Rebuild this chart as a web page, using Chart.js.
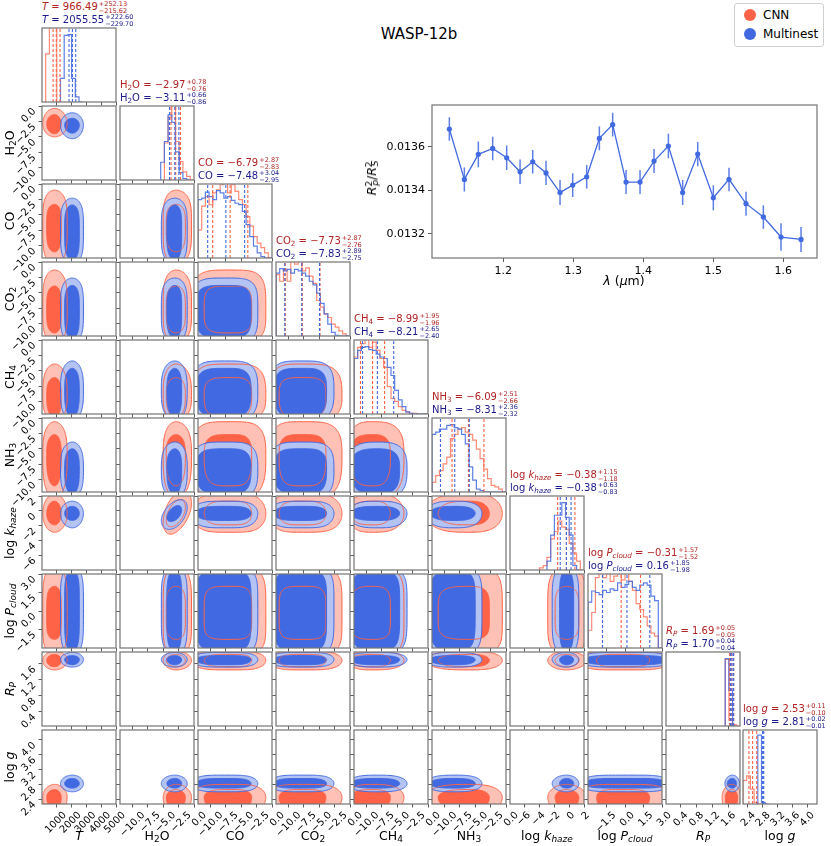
<!DOCTYPE html>
<html><head><meta charset="utf-8">
<script src="https://cdn.jsdelivr.net/npm/chart.js@4.4.1/dist/chart.umd.min.js"></script>
<style>
html,body{margin:0;padding:0;background:#fff}
body{width:831px;height:846px;position:relative;overflow:hidden;font-family:"DejaVu Sans",sans-serif}
canvas{position:absolute}
.lbl{position:absolute;white-space:nowrap;font-size:12.5px;color:#000;z-index:5;line-height:14px}
.ttl{position:absolute;white-space:nowrap;font-size:10px;z-index:5;line-height:12px}
.ss{display:inline-block;vertical-align:-3px;font-size:6.5px;line-height:6.8px;margin-left:1px}
.ss span{display:block}
sub{font-size:0.72em;vertical-align:-0.25em;line-height:0}
sup{font-size:0.72em;vertical-align:0.45em;line-height:0}
.legend{position:absolute;left:734px;top:3px;width:88px;height:42px;border:1px solid #d0d0d0;border-radius:3px;background:#fff;z-index:6;font-size:12px}
.legend div{position:absolute;left:28px;white-space:nowrap}
.dot{position:absolute;left:9px;width:12px;height:12px;border-radius:50%}
.main{position:absolute;left:419px;top:34px;transform:translate(-50%,-50%);font-size:15px;z-index:5;white-space:nowrap}
</style></head><body>
<div class="main">WASP-12b</div>
<div class="legend">
  <span class="dot" style="top:5px;background:rgb(255,99,71)"></span><div style="top:4px">CNN</div>
  <span class="dot" style="top:24px;background:rgb(65,105,225)"></span><div style="top:23px">Multinest</div>
</div>
<script>
// ---------------- DATA ----------------
const paramLabels = ['<i>T</i>','H<sub>2</sub>O','CO','CO<sub>2</sub>','CH<sub>4</sub>','NH<sub>3</sub>','log <i>k<sub>haze</sub></i>','log <i>P<sub>cloud</sub></i>','<i>R<sub>P</sub></i>','log <i>g</i>'];
const axisMin = [0,-12,-12,-12,-12,-12,-8,-3,0.04,2.27];
const axisMax = [5000,0,0,0,0,0,2,3,1.9,4.27];
const tickValues = [
  [1000,2000,3000,4000,5000],[-10,-7.5,-5,-2.5,0],[-10,-7.5,-5,-2.5,0],[-10,-7.5,-5,-2.5,0],
  [-10,-7.5,-5,-2.5,0],[-10,-7.5,-5,-2.5,0],[-6,-4,-2,0,2],[-1.5,0,1.5,3],[0.4,0.8,1.2,1.6],[2.4,2.8,3.2,3.6,4.0]];
const gasTicks = ['−10.0','−7.5','−5.0','−2.5','0.0'];
const tickLabels = [
  ['1000','2000','3000','4000','5000'],gasTicks,gasTicks,gasTicks,gasTicks,gasTicks,
  ['−6','−4','−2','0','2'],['−1.5','0.0','1.5','3.0'],['0.4','0.8','1.2','1.6'],['2.4','2.8','3.2','3.6','4.0']];

// posterior summaries (titles / dashed quantile lines)
const cnnMedian = [966.49,-2.97,-6.79,-7.73,-8.99,-6.09,-0.38,-0.31,1.69,2.53];
const cnnPlus   = [252.13,0.78,2.87,2.87,1.95,2.51,1.15,1.57,0.05,0.11];
const cnnMinus  = [215.62,0.76,2.83,2.76,1.96,2.66,1.18,1.52,0.05,0.10];
const mnMedian  = [2055.55,-3.11,-7.48,-7.83,-8.21,-8.31,-0.38,0.16,1.70,2.81];
const mnPlus    = [222.60,0.66,3.04,2.89,2.65,2.36,0.63,1.85,0.04,0.02];
const mnMinus   = [229.70,0.86,2.95,2.75,2.40,2.32,0.83,1.98,0.04,0.01];

// 1D histograms (heights relative to panel height)
const histWidth = [250,0.6,0.6,0.6,0.6,0.6,0.5,0.3,0.093,0.1];
const cnnHistStart = [250,-4.8,-12,-12,-12,-12,-4,-3,1.528,2.27];
const mnHistStart  = [1250,-5.4,-12,-12,-12,-12,-3,-3,1.528,2.67];
const cnnHist = [
  [0.32,0.65,1.2,1.2],
  [0.1,0.5,0.85,1.1,0.52,0.25,0.11,0.05],
  [0.27,0.38,0.70,0.83,0.72,0.88,0.92,0.99,1.05,0.88,0.99,0.90,0.79,0.72,0.56,0.43,0.29,0.20,0.14,0.07],
  [0.30,0.83,0.74,0.90,0.74,1.05,0.97,1.05,0.88,0.92,0.81,0.71,0.48,0.39,0.30,0.25,0.16,0.12,0.07,0.03],
  [0.57,0.77,0.90,0.95,1.05,0.90,0.97,0.86,0.75,0.63,0.37,0.21,0.17,0.10,0.05,0.03,0.01,0.01,0,0],
  [0.07,0.13,0.22,0.29,0.38,0.47,0.72,0.78,0.85,0.87,0.81,0.78,0.70,0.58,0.45,0.31,0.18,0.09,0.07,0.04],
  [0.02,0.03,0.06,0.17,0.42,0.52,0.66,0.58,0.55,0.36,0.23,0.12],
  [0.2,0.24,0.48,0.95,1.05,0.95,1.05,0.9,0.97,1.05,0.92,1.05,0.9,0.78,0.6,0.52,0.42,0.3,0.2,0.16],
  [0.15,0.9,0.08,0.02],
  [0.12,0.32,0.38,0.2,0.02]];
const mnHist = [
  [0.03,0.32,0.90,0.91,0.32,0.07],
  [0.05,0.24,0.52,0.88,0.78,0.38,0.1,0.02],
  [0.74,0.79,0.81,0.89,0.83,0.79,0.91,0.88,0.81,0.83,0.78,0.74,0.72,0.63,0.45,0.29,0.16,0.07,0.02,0],
  [0.81,0.85,0.91,0.88,0.90,0.85,0.90,0.88,0.85,0.81,0.74,0.69,0.58,0.44,0.30,0.16,0.05,0.01,0,0],
  [0.59,0.75,0.86,0.90,0.91,0.87,0.86,0.81,0.77,0.75,0.63,0.52,0.32,0.19,0.10,0.03,0.01,0,0,0],
  [0.61,0.78,0.81,0.85,0.85,0.90,0.91,0.87,0.85,0.78,0.65,0.34,0.16,0.04,0.02,0,0,0,0,0],
  [0.06,0.12,0.47,0.74,0.74,0.91,0.71,0.47,0.06],
  [0.48,0.62,0.77,0.75,0.72,0.78,0.75,0.80,0.78,0.88,0.82,0.86,0.90,0.82,0.78,0.85,0.88,0.85,0.70,0.64],
  [0,0.91,0.48],
  [0.1,0.93,0.02]];

// 2D credible regions per parameter: [outer low, inner low, centre, inner high, outer high]
const cnnRegion = [
  [50,320,850,1300,1700],[-5.0,-4.5,-2.9,-1.4,-0.4],[-13,-11,-6.8,-3.3,-1.0],[-13,-11.5,-7.7,-3.9,-1.3],
  [-13,-12.5,-9.0,-6.1,-3.9],[-13,-11,-6.1,-2.7,-0.6],[-2.9,-1.9,-0.4,1.3,2.3],[-3.6,-2.3,-0.3,2.0,3.6],
  [1.45,1.53,1.69,1.84,1.92],[2.0,2.1,2.45,2.66,2.8]];
const mnRegion = [
  [1250,1530,2050,2520,2800],[-5.3,-4.4,-3.1,-2.0,-1.1],[-13,-12.3,-7.5,-3.4,-2.3],[-13,-12.3,-7.8,-3.8,-2.6],
  [-13,-12.5,-8.2,-4.6,-3.4],[-13,-12.3,-8.3,-5.0,-3.9],[-2.3,-1.3,-0.35,0.6,1.3],[-3.6,-3.3,0.2,3.3,3.6],
  [1.52,1.58,1.71,1.81,1.89],[2.6,2.7,2.82,2.96,3.05]];
const regionShape = [2,2,4,4,3,3,2,5,2,2];
const correlatedPairs = [[6,1,0.5]]; // [row, col, shear]

// transmission spectrum (inset)
const wavelength = [1.1229,1.1443,1.1643,1.1848,1.2048,1.2239,1.2420,1.2610,1.2810,1.2991,1.3191,1.3372,1.3562,1.3753,1.3953,1.4153,1.4358,1.4562,1.4777,1.5000,1.5224,1.5467,1.5715,1.5967,1.6253];
const depth = [0.013681,0.013450,0.013565,0.013592,0.013549,0.013485,0.013531,0.013480,0.013390,0.013424,0.013462,0.013638,0.013701,0.013438,0.013438,0.013534,0.013603,0.013390,0.013566,0.013366,0.013450,0.013339,0.013278,0.013186,0.013175];
const depthErr = [5.4e-5,5.5e-5,5.9e-5,5.4e-5,5.6e-5,5.6e-5,5.4e-5,5.5e-5,5.7e-5,5.4e-5,5.4e-5,5.4e-5,5.4e-5,5.5e-5,5.5e-5,5.5e-5,5.6e-5,5.7e-5,5.6e-5,5.7e-5,5.4e-5,5.5e-5,5.4e-5,6.3e-5,5.7e-5];
const specXTicks = [1.2,1.3,1.4,1.5,1.6];
const specXLabels = ['1.2','1.3','1.4','1.5','1.6'];
const specYTicks = [0.0132,0.0134,0.0136];
const specYLabels = ['0.0132','0.0134','0.0136'];
const specXRange = [1.0981,1.6481];
const specYRange = [0.013090,0.013791];

// ---------------- STYLE / LAYOUT ----------------
const CNN_DARK='rgb(255,99,71)', CNN_LIGHT='rgb(255,193,181)';
const MN_DARK='rgb(65,105,225)', MN_LIGHT='rgb(179,195,243)';
const CNN_HIST='rgba(255,99,71,0.75)', MN_HIST='rgba(65,105,225,0.85)';
const CNN_TXT='#b22222', MN_TXT='#1a1a8c';
const PW = 74;
const colX = c => Math.round(42.3 + 77.9*c);
const rowY = r => Math.round(27.8 + 78*r);

Chart.defaults.font.family = "'DejaVu Sans', sans-serif";
Chart.defaults.animation = false;
Chart.defaults.plugins.legend.display = false;
Chart.defaults.plugins.tooltip.enabled = false;
Chart.defaults.events = [];

const framePlugin = {
  id:'frame',
  afterDraw(chart){
    const {ctx, chartArea:a} = chart;
    ctx.save(); ctx.strokeStyle='#737373'; ctx.lineWidth=1.2;
    ctx.strokeRect(a.left, a.top, a.width, a.height); ctx.restore();
  }
};

function regionPath(ctx, xs, ys, xb, yb, ex, ey, outer, shear){
  const lx = outer?xb[0]:xb[1], hx = outer?xb[4]:xb[3], cx = xb[2];
  const ly = outer?yb[0]:yb[1], hy = outer?yb[4]:yb[3], cy = yb[2];
  const N = 180;
  ctx.beginPath();
  for(let i=0;i<=N;i++){
    const t=i/N*2*Math.PI, c=Math.cos(t), s=Math.sin(t);
    const u=Math.sign(c)*Math.pow(Math.abs(c),2/ex), v=Math.sign(s)*Math.pow(Math.abs(s),2/ey);
    const X = cx + (u>=0 ? u*(hx-cx) : u*(cx-lx));
    let Y = cy + (v>=0 ? v*(hy-cy) : v*(cy-ly));
    if(shear) Y += shear*(X-cx)/((xb[4]-xb[0])/2)*((yb[4]-yb[0])/2);
    const px=xs.getPixelForValue(X), py=ys.getPixelForValue(Y);
    if(i) ctx.lineTo(px,py); else ctx.moveTo(px,py);
  }
  ctx.closePath();
}

const contourPlugin = {
  id:'contours',
  beforeDatasetsDraw(chart, args, opts){
    if(opts.xp===undefined) return;
    const {ctx, chartArea:a, scales} = chart;
    const xs=scales.x, ys=scales.y, xp=opts.xp, yp=opts.yp;
    const pair = correlatedPairs.find(q=>q[0]===yp && q[1]===xp);
    const shear = pair ? pair[2] : 0;
    const ex=regionShape[xp], ey=regionShape[yp];
    ctx.save();
    ctx.beginPath(); ctx.rect(a.left,a.top,a.width,a.height); ctx.clip();
    const sets = [[cnnRegion,CNN_LIGHT,CNN_DARK],[mnRegion,MN_LIGHT,MN_DARK]];
    sets.forEach(([R,light,dark])=>{
      regionPath(ctx,xs,ys,R[xp],R[yp],ex,ey,true,shear); ctx.fillStyle=light; ctx.fill();
      regionPath(ctx,xs,ys,R[xp],R[yp],ex,ey,false,shear); ctx.fillStyle=dark; ctx.fill();
    });
    ctx.lineWidth=1;
    sets.forEach(([R,light,dark])=>{
      ctx.strokeStyle=dark;
      regionPath(ctx,xs,ys,R[xp],R[yp],ex,ey,true,shear); ctx.stroke();
      regionPath(ctx,xs,ys,R[xp],R[yp],ex,ey,false,shear); ctx.stroke();
    });
    ctx.restore();
  }
};

function fixSize(s, isX, size){
  if(isX) s.height=size; else s.width=size;
  s.paddingLeft=0; s.paddingRight=0; s.paddingTop=0; s.paddingBottom=0;
}

function scaleOpts(p, isX, showLabels, showTicks, size){
  const labels = p===null ? [] : tickLabels[p];
  const maxChars = labels.reduce((m,s)=>Math.max(m,s.length),0);
  return {
    type:'linear',
    min: p===null ? 0 : axisMin[p],
    max: p===null ? 1 : axisMax[p],
    afterFit(s){ fixSize(s, isX, size); },
    afterBuildTicks(s){ s.ticks = p===null ? [] : tickValues[p].map(v=>({value:v})); },
    ticks:{display:showLabels, autoSkip:false, minRotation:45, maxRotation:45, padding: isX ? 2 : 4, color:'#000',
      font:{size:10}, labelOffset: isX ? Math.round(maxChars*2.1) : 4,
      callback:(v,i)=> p===null ? '' : labels[i]},
    grid:{display:showTicks, drawOnChartArea:false, drawTicks:true, tickLength:3.5, color:'#333', lineWidth:0.8},
    border:{display:false}
  };
}

function stepData(start, width, vals){
  const pts=[{x:start,y:0}];
  vals.forEach((v,k)=>pts.push({x:start+k*width,y:v}));
  pts.push({x:start+vals.length*width,y:0});
  return pts;
}
function vline(x, color){
  return {data:[{x:x,y:0},{x:x,y:1}], borderColor:color, borderWidth:1.1, borderDash:[3,2], pointRadius:0, fill:false};
}

function makePanel(r, c){
  const showY = (c===0 && r>0), showX = (r===9);
  const padL = showY ? 42 : 5;
  const padB = showX ? 48 : (showY ? 30 : 5);
  const padR = showX ? 16 : 2, padT = 1;
  const w = padL + PW + padR, h = padT + PW + padB;
  const cv = document.createElement('canvas');
  cv.width=w; cv.height=h;
  cv.style.left=(colX(c)-padL)+'px'; cv.style.top=(rowY(r)-padT)+'px';
  cv.style.width=w+'px'; cv.style.height=h+'px';
  document.body.appendChild(cv);
  const diag = (r===c);
  let datasets=[];
  if(diag){
    const p=r;
    const q=[];
    [[mnMedian,mnPlus,mnMinus,MN_DARK],[cnnMedian,cnnPlus,cnnMinus,CNN_DARK]].forEach(([m,pl,mi,col])=>{
      q.push(vline(m[p]-mi[p],col), vline(m[p],col), vline(m[p]+pl[p],col));
    });
    datasets = q.concat([
      {data:stepData(mnHistStart[p],histWidth[p],mnHist[p]), borderColor:MN_HIST, borderWidth:1.2, stepped:'after', pointRadius:0, fill:false},
      {data:stepData(cnnHistStart[p],histWidth[p],cnnHist[p]), borderColor:CNN_HIST, borderWidth:1.2, stepped:'after', pointRadius:0, fill:false}
    ]);
  }
  new Chart(cv, {
    type: diag ? 'line' : 'scatter',
    data:{datasets},
    options:{
      responsive:false, devicePixelRatio:1, animation:false,
      layout:{padding:{left:0,right:padR,top:padT,bottom:0}},
      scales:{
        x: scaleOpts(c, true, showX, true, padB),
        y: diag ? scaleOpts(null, false, false, false, padL) : scaleOpts(r, false, showY, true, padL)
      },
      plugins:{contours: diag ? {} : {xp:c, yp:r}}
    },
    plugins:[contourPlugin, framePlugin]
  });
}

for(let r=0;r<10;r++) for(let c=0;c<=r;c++) makePanel(r,c);

// axis titles
function addLabel(html, x, y, rot){
  const d=document.createElement('div'); d.className='lbl'; d.innerHTML=html;
  d.style.left=x+'px'; d.style.top=y+'px';
  d.style.transform='translate(-50%,-50%)'+(rot?' rotate(-90deg)':'');
  document.body.appendChild(d);
}
for(let p=0;p<10;p++){
  addLabel(paramLabels[p], colX(p)+PW/2, 836, false);
  if(p>0) addLabel(paramLabels[p], 10, rowY(p)+PW/2, true);
}
// diagonal titles
const fmt = v => v.toFixed(2).replace('-','−');
function addTitle(p, med, plus, minus, color, yc){
  const d=document.createElement('div'); d.className='ttl'; d.style.color=color;
  d.innerHTML = paramLabels[p]+' = '+fmt(med[p])+'<span class="ss"><span>+'+fmt(plus[p])+'</span><span>−'+fmt(minus[p])+'</span></span>';
  d.style.left=colX(p)+'px'; d.style.top=yc+'px'; d.style.transform='translateY(-50%)';
  document.body.appendChild(d);
}
for(let p=0;p<10;p++){
  addTitle(p, cnnMedian, cnnPlus, cnnMinus, CNN_TXT, rowY(p)-20);
  addTitle(p, mnMedian, mnPlus, mnMinus, MN_TXT, rowY(p)-7);
}

// ---------------- INSET SPECTRUM ----------------
(function(){
  const cv=document.createElement('canvas');
  const w=452, h=192;
  cv.width=w; cv.height=h; cv.style.left='372px'; cv.style.top='100px';
  cv.style.width=w+'px'; cv.style.height=h+'px';
  document.body.appendChild(cv);
  const pts = wavelength.map((x,i)=>({x, y:depth[i]}));
  const err = [];
  wavelength.forEach((x,i)=>{ err.push({x,y:depth[i]-depthErr[i]},{x,y:depth[i]+depthErr[i]},{x,y:null}); });
  const ax = (isX, ticks, labels, range, size) => ({
    type:'linear', min:range[0], max:range[1],
    afterFit(s){ fixSize(s, isX, size); },
    afterBuildTicks(s){ s.ticks = ticks.map(v=>({value:v})); },
    ticks:{autoSkip:false, maxRotation:0, minRotation:0, padding:3, color:'#000', font:{size:11}, callback:(v,i)=>labels[i]},
    grid:{drawOnChartArea:false, drawTicks:true, tickLength:4, color:'#333', lineWidth:0.8},
    border:{display:false}
  });
  new Chart(cv,{
    type:'scatter',
    data:{datasets:[
      {data:pts, showLine:true, borderColor:MN_DARK, borderWidth:1.3, pointRadius:2.6, pointBackgroundColor:MN_DARK, pointBorderWidth:0},
      {data:err, showLine:true, spanGaps:false, borderColor:'rgba(65,105,225,0.85)', borderWidth:1.5, pointRadius:0}
    ]},
    options:{
      responsive:false, devicePixelRatio:1, animation:false,
      layout:{padding:{left:0,right:7,top:5,bottom:0}},
      scales:{ x: ax(true, specXTicks, specXLabels, specXRange, 34), y: ax(false, specYTicks, specYLabels, specYRange, 60) }
    },
    plugins:[framePlugin]
  });
  addLabel('<i>λ</i> (<i>μ</i>m)', 624, 281, false);
  addLabel('<i>R</i><sup>2</sup><sub style="margin-left:-0.55em"><i>p</i></sub>/<i>R</i><sup>2</sup><sub style="margin-left:-0.55em"><i>S</i></sub>', 372, 178, true);
})();
</script>
</body></html>
